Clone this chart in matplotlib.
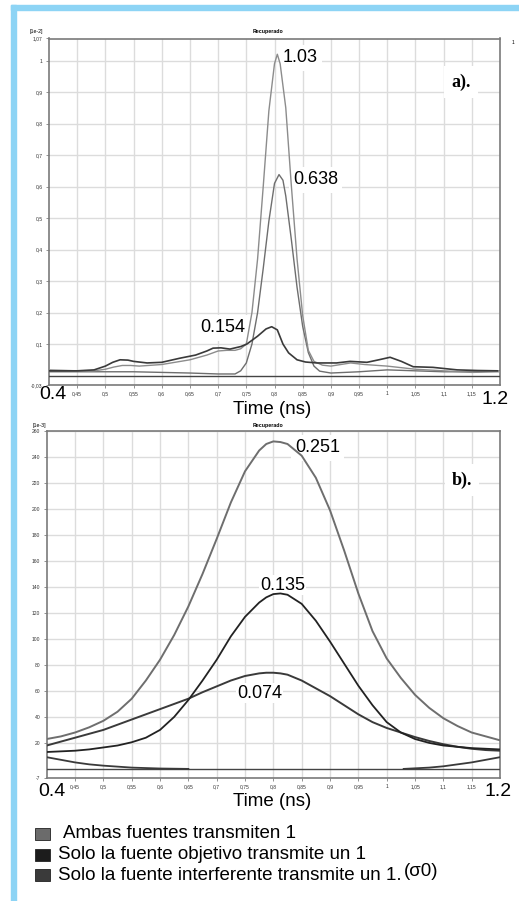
import matplotlib
matplotlib.use("Agg")
from matplotlib import pyplot as plt
from matplotlib.patches import Rectangle

W, H = 519, 901

# ---- panel a) (escala 1e-2) ----
amb_a_t = [0.40, 0.45, 0.48, 0.50, 0.515, 0.53, 0.545, 0.56, 0.60, 0.65, 0.68, 0.70, 0.715,
           0.73, 0.74, 0.75, 0.76, 0.77, 0.78, 0.79, 0.80, 0.805, 0.81, 0.82, 0.83, 0.84,
           0.85, 0.86, 0.87, 0.885, 0.90, 0.935, 0.96, 1.00, 1.05, 1.10, 1.15, 1.20]
amb_a_v = [0.018, 0.015, 0.015, 0.02, 0.027, 0.032, 0.032, 0.03, 0.035, 0.05, 0.065, 0.078, 0.08,
           0.08, 0.085, 0.10, 0.20, 0.37, 0.60, 0.84, 0.99, 1.02, 0.99, 0.85, 0.60, 0.37,
           0.19, 0.08, 0.045, 0.033, 0.03, 0.04, 0.035, 0.03, 0.02, 0.015, 0.01, 0.012]

obj_a_t = [0.40, 0.45, 0.50, 0.55, 0.60, 0.65, 0.70, 0.73, 0.74, 0.75, 0.76, 0.77, 0.78, 0.79,
           0.80, 0.808, 0.815, 0.82, 0.83, 0.84, 0.85, 0.86, 0.87, 0.88, 0.90, 0.95, 1.00,
           1.05, 1.10, 1.15, 1.20]
obj_a_v = [0.012, 0.012, 0.012, 0.012, 0.01, 0.008, 0.005, 0.005, 0.015, 0.04, 0.10, 0.20, 0.34,
           0.49, 0.61, 0.638, 0.62, 0.57, 0.43, 0.28, 0.156, 0.073, 0.03, 0.014, 0.008, 0.012,
           0.018, 0.015, 0.012, 0.012, 0.015]

int_a_t = [0.40, 0.45, 0.48, 0.50, 0.513, 0.526, 0.54, 0.55, 0.574, 0.60, 0.632, 0.66, 0.68,
           0.691, 0.705, 0.721, 0.74, 0.751, 0.77, 0.785, 0.795, 0.805, 0.815, 0.825, 0.84,
           0.855, 0.875, 0.91, 0.934, 0.964, 0.985, 1.005, 1.025, 1.046, 1.081, 1.124, 1.16,
           1.195]
int_a_v = [0.015, 0.015, 0.018, 0.03, 0.042, 0.05, 0.049, 0.045, 0.04, 0.042, 0.055, 0.065, 0.078,
           0.087, 0.088, 0.084, 0.092, 0.10, 0.125, 0.148, 0.155, 0.145, 0.10, 0.072, 0.05,
           0.043, 0.04, 0.04, 0.045, 0.042, 0.05, 0.058, 0.045, 0.028, 0.026, 0.018, 0.016,
           0.015]

base_t = [0.40, 1.20]
base_v = [0.0, 0.0]

# ---- panel b) (escala 1e-3) ----
t_b = [0.400, 0.425, 0.450, 0.475, 0.500, 0.525, 0.550, 0.575, 0.600, 0.625, 0.650,
       0.675, 0.700, 0.725, 0.750, 0.775, 0.7875, 0.800, 0.8125, 0.825, 0.850, 0.875,
       0.900, 0.925, 0.950, 0.975, 1.000, 1.025, 1.050, 1.075, 1.100, 1.125, 1.150,
       1.175, 1.200]
amb_b_v = [23, 25, 28, 32, 37, 44, 54, 68, 84, 103, 125,
           150, 177, 205, 229, 245, 250, 252, 251.5, 250, 241, 224,
           199, 168, 135, 106, 85, 70, 57, 47, 39, 33, 28,
           25, 22]
obj_b_v = [13, 13.5, 14, 15, 16.5, 18, 20.5, 24, 30, 40, 53,
           68, 84, 102, 117, 128, 132, 134.5, 135, 134, 127, 114,
           98, 81, 64, 49, 36, 28, 23, 20, 18, 17, 16,
           15.5, 15]
int_b_v = [18, 21, 24, 27, 30, 34, 38, 42, 46, 50, 54,
           59, 63.5, 68, 71.5, 73.5, 74, 74, 73.5, 72.5, 68, 62,
           56, 49, 42, 36, 31.5, 28, 24.5, 21.5, 19, 17, 15.5,
           14.5, 14]

cola_izq_t = [0.40, 0.425, 0.45, 0.475, 0.50, 0.55, 0.60, 0.65]
cola_izq_v = [9, 7, 5, 3.5, 2.5, 1, 0.3, 0]
cola_der_t = [1.03, 1.075, 1.10, 1.125, 1.15, 1.175, 1.20]
cola_der_v = [0, 1, 2, 3.5, 5, 7, 9]

x_ticks = [0.45, 0.5, 0.55, 0.6, 0.65, 0.7, 0.75, 0.8, 0.85, 0.9, 0.95, 1.0, 1.05, 1.1, 1.15]
x_labels = ["0,45", "0,5", "0,55", "0,6", "0,65", "0,7", "0,75", "0,8", "0,85", "0,9",
            "0,95", "1", "1,05", "1,1", "1,15"]
ya_ticks = [-0.03, 0.1, 0.2, 0.3, 0.4, 0.5, 0.6, 0.7, 0.8, 0.9, 1.0, 1.07]
ya_labels = ["-0,03", "0,1", "0,2", "0,3", "0,4", "0,5", "0,6", "0,7", "0,8", "0,9", "1", "1,07"]
yb_ticks = [-7, 20, 40, 60, 80, 100, 120, 140, 160, 180, 200, 220, 240, 260]
yb_labels = ["-7", "20", "40", "60", "80", "100", "120", "140", "160", "180", "200", "220",
             "240", "260"]

leyenda = ["Ambas fuentes transmiten 1",
           "Solo la fuente objetivo transmite un 1",
           "Solo la fuente interferente transmite un 1."]
col_leyenda = ["#6b6b6b", "#1c1c1c", "#3a3a3a"]

SANS = "Liberation Sans"


def fx(px):
    return px / W


def fy(py):
    return 1 - py / H


def style(ax, ylim, yt, yl):
    ax.set_xlim(0.4, 1.2)
    ax.set_ylim(*ylim)
    ax.set_xticks(x_ticks)
    ax.set_xticklabels(x_labels, fontsize=3.6, family=SANS, color="#333333")
    ax.set_yticks(yt)
    ax.set_yticklabels(yl, fontsize=3.6, family=SANS, color="#333333")
    ax.tick_params(length=2, width=0.5, pad=2.5, color="#666666")
    ax.grid(True, color="#dcdcdc", lw=1.0)
    ax.set_axisbelow(True)
    for s in ax.spines.values():
        s.set_color("#7a7a7a")
        s.set_linewidth(1.2)


def label(ax, px, py, txt, pad=3, **kw):
    # etiqueta con fondo blanco, por debajo de las curvas
    ax.text(fx(px), fy(py), txt, transform=fig.transFigure, fontsize=13, family=SANS,
            va="center", zorder=2, bbox=dict(facecolor="white", edgecolor="none", pad=pad), **kw)


fig = plt.figure(figsize=(W / 100, H / 100), dpi=100)

# marco azul
fig.patches.append(Rectangle((fx(11), 0), fx(16) - fx(11), fy(5), transform=fig.transFigure,
                             color="#8dd4f5", zorder=0))
fig.patches.append(Rectangle((fx(11), fy(10)), 1 - fx(11), fy(5) - fy(10),
                             transform=fig.transFigure, color="#8dd4f5", zorder=0))

# ---- a) ----
ax1 = fig.add_axes([fx(49), fy(385), fx(500) - fx(49), fy(38.5) - fy(385)])
style(ax1, (-0.03, 1.07), ya_ticks, ya_labels)
label(ax1, 283, 58, "1.03")
label(ax1, 293, 180, "0.638")
label(ax1, 200, 328, "0.154")
ax1.text(fx(461), fy(82), "a).", transform=fig.transFigure, fontsize=13,
         family="Liberation Serif", weight="bold", ha="center", va="center", zorder=2,
         bbox=dict(facecolor="white", edgecolor="none", pad=5))
ax1.plot(base_t, base_v, color="#444444", lw=1.0, zorder=3)
ax1.plot(obj_a_t, obj_a_v, color="#6e6e6e", lw=1.0, zorder=3)
ax1.plot(amb_a_t, amb_a_v, color="#8c8c8c", lw=1.0, zorder=3)
ax1.plot(int_a_t, int_a_v, color="#3a3a3a", lw=1.2, zorder=3)

fig.text(fx(30), fy(32), "[1e-2]", fontsize=3.8, family=SANS, va="center")
fig.text(fx(268), fy(32), "Recuperado", fontsize=3.8, family=SANS, weight="bold",
         ha="center", va="center")
fig.text(fx(513), fy(43), "1", fontsize=3.5, family=SANS, ha="center", va="center")
fig.text(fx(53), fy(395), "0.4", fontsize=14, family=SANS, ha="center", va="center")
fig.text(fx(495), fy(400), "1.2", fontsize=14, family=SANS, ha="center", va="center")
fig.text(fx(272), fy(410), "Time (ns)", fontsize=13.5, family=SANS, ha="center", va="center")

# ---- b) ----
ax2 = fig.add_axes([fx(46.7), fy(778), fx(500) - fx(46.7), fy(431) - fy(778)])
style(ax2, (-7, 260), yb_ticks, yb_labels)
label(ax2, 295, 448, "0.251")
label(ax2, 260, 585, "0.135", pad=1)
label(ax2, 237, 693, "0.074", pad=1)
ax2.text(fx(462), fy(480), "b).", transform=fig.transFigure, fontsize=13,
         family="Liberation Serif", weight="bold", ha="center", va="center", zorder=2,
         bbox=dict(facecolor="white", edgecolor="none", pad=5))
ax2.plot(base_t, base_v, color="#444444", lw=1.0, zorder=3)
ax2.plot(cola_izq_t, cola_izq_v, color="#3a3a3a", lw=1.3, zorder=3)
ax2.plot(cola_der_t, cola_der_v, color="#3a3a3a", lw=1.3, zorder=3)
ax2.plot(t_b, int_b_v, color="#3a3a3a", lw=1.4, zorder=3)
ax2.plot(t_b, obj_b_v, color="#222222", lw=1.3, zorder=3)
ax2.plot(t_b, amb_b_v, color="#6e6e6e", lw=1.4, zorder=3)

fig.text(fx(33), fy(425), "[1e-3]", fontsize=3.8, family=SANS, va="center")
fig.text(fx(268), fy(425), "Recuperado", fontsize=3.8, family=SANS, weight="bold",
         ha="center", va="center")
fig.text(fx(52), fy(791), "0.4", fontsize=14, family=SANS, ha="center", va="center")
fig.text(fx(498), fy(791), "1.2", fontsize=14, family=SANS, ha="center", va="center")
fig.text(fx(272), fy(802), "Time (ns)", fontsize=13.5, family=SANS, ha="center", va="center")

# ---- leyenda ----
for i, (txt, c) in enumerate(zip(leyenda, col_leyenda)):
    yc = 834 + i * 20.5
    fig.patches.append(Rectangle((fx(35), fy(yc + 6)), fx(15), 12 / H, transform=fig.transFigure,
                                 facecolor=c, edgecolor="#222222", lw=0.6))
    fig.text(fx(63 if i == 0 else 58), fy(yc), txt, fontsize=13.5, family=SANS, va="center")
fig.text(fx(404), fy(872), "(σ0)", fontsize=13.5, family=SANS, va="center")

fig.savefig("out.png", dpi=100, facecolor="white")
